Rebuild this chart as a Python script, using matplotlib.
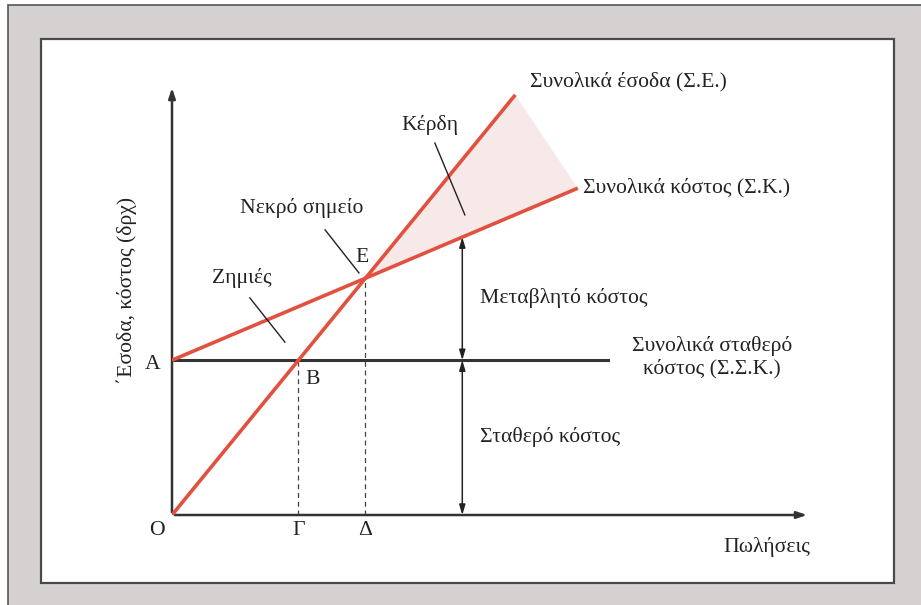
import numpy as np
import matplotlib.pyplot as plt
from matplotlib.patches import Rectangle, Polygon

# break-even chart values (abstract units)
revenue_x = [0, 5.38]
revenue_y = [0, 9.77]
cost_x = [0, 6.36]
cost_y = [3.6, 7.6]
fixed_cost = 3.6
fixed_end = 6.83
arrow_x = 4.55

plt.rcParams['font.family'] = ['Liberation Serif', 'DejaVu Serif']
fs = 15.6

fig = plt.figure(figsize=(9.21, 6.05), dpi=100)

# gray frame and white panel
fig.patches.append(Rectangle((8 / 921, -0.05), 1.1, 1.05 - 5 / 605, transform=fig.transFigure,
                             facecolor='#d6d1d1', edgecolor='#555555', lw=1.2, zorder=-3))
fig.patches.append(Rectangle((41 / 921, 22 / 605), 853 / 921, 544 / 605, transform=fig.transFigure,
                             facecolor='white', edgecolor='#4a4a4a', lw=1.6, zorder=-2))

ax = fig.add_axes([172 / 921, 90 / 605, 638 / 921, 430 / 605])
ax.set_xlim(0, 10)
ax.set_ylim(0, 10)
ax.axis('off')

# axes with arrows
ax.annotate('', xy=(10, 0), xytext=(0, 0),
            arrowprops=dict(arrowstyle='-|>,head_length=0.6,head_width=0.2', color='#333333', lw=1.8))
ax.annotate('', xy=(0, 10), xytext=(0, 0),
            arrowprops=dict(arrowstyle='-|>,head_length=0.6,head_width=0.2', color='#333333', lw=1.8))

# slopes / intersections
rev_slope = (revenue_y[1] - revenue_y[0]) / (revenue_x[1] - revenue_x[0])
cost_slope = (cost_y[1] - cost_y[0]) / (cost_x[1] - cost_x[0])
gamma_x = fixed_cost / rev_slope
e_x = cost_y[0] / (rev_slope - cost_slope)
e_y = rev_slope * e_x

# profit area
ax.add_patch(Polygon([[e_x, e_y], [revenue_x[1], revenue_y[1]], [cost_x[1], cost_y[1]]],
                     closed=True, facecolor='#f8e9e9', edgecolor='none', zorder=1))

ax.plot([0, fixed_end], [fixed_cost, fixed_cost], color='#333333', lw=2.2, zorder=2)
ax.plot(revenue_x, revenue_y, color='#e2513f', lw=2.6, zorder=3, solid_capstyle='butt')
ax.plot(cost_x, cost_y, color='#e2513f', lw=2.6, zorder=3, solid_capstyle='butt')

# dashed guides
ax.plot([gamma_x, gamma_x], [0, fixed_cost], color='#444444', lw=0.9, ls=(0, (4, 3)), zorder=2)
ax.plot([e_x, e_x], [0, e_y], color='#444444', lw=0.9, ls=(0, (4, 3)), zorder=2)

# double arrows
arr = dict(arrowstyle='<|-|>,head_length=0.6,head_width=0.18', color='#222222', lw=1.1,
           shrinkA=0, shrinkB=0)
ax.annotate('', xy=(arrow_x, fixed_cost + cost_slope * arrow_x), xytext=(arrow_x, fixed_cost),
            arrowprops=arr)
ax.annotate('', xy=(arrow_x, fixed_cost), xytext=(arrow_x, 0), arrowprops=arr)

# leader lines
for (x0, y0), (x1, y1) in [((4.12, 8.65), (4.59, 6.98)),
                           ((2.40, 6.63), (2.93, 5.63)),
                           ((1.22, 5.05), (1.77, 4.02))]:
    ax.plot([x0, x1], [y0, y1], color='#222222', lw=1.0, zorder=4)

tc = '#222222'
ax.text(5.61, 10.07, 'Συνολικά έσοδα (Σ.Ε.)', fontsize=fs, color=tc, va='center')
ax.text(4.04, 9.07, 'Κέρδη', fontsize=fs, color=tc, ha='center', va='center')
ax.text(6.44, 7.60, 'Συνολικά κόστος (Σ.Κ.)', fontsize=fs, color=tc, va='center')
ax.text(2.04, 7.14, 'Νεκρό σημείο', fontsize=fs, color=tc, ha='center', va='center')
ax.text(2.98, 6.0, 'Ε', fontsize=fs, color=tc, ha='center', va='center')
ax.text(1.10, 5.51, 'Ζημιές', fontsize=fs, color=tc, ha='center', va='center')
ax.text(4.83, 5.05, 'Μεταβλητό κόστος', fontsize=fs, color=tc, va='center')
ax.text(8.46, 3.67, 'Συνολικά σταθερό\nκόστος (Σ.Σ.Κ.)', fontsize=fs, color=tc,
        ha='center', va='center', linespacing=1.2)
ax.text(4.83, 1.81, 'Σταθερό κόστος', fontsize=fs, color=tc, va='center')
ax.text(-0.31, 3.49, 'Α', fontsize=fs, color=tc, ha='center', va='center')
ax.text(2.21, 3.14, 'Β', fontsize=fs, color=tc, ha='center', va='center')
ax.text(-0.24, -0.37, 'Ο', fontsize=fs, color=tc, ha='center', va='center')
ax.text(gamma_x, -0.37, 'Γ', fontsize=fs, color=tc, ha='center', va='center')
ax.text(e_x, -0.37, 'Δ', fontsize=fs, color=tc, ha='center', va='center')
ax.text(10.0, -0.74, 'Πωλήσεις', fontsize=fs, color=tc, ha='right', va='center')
ax.text(-0.71, 5.23, '΄Εσοδα, κόστος (δρχ)', fontsize=fs, color=tc, ha='center', va='center',
        rotation=90)

fig.savefig('out.png', dpi=100)
